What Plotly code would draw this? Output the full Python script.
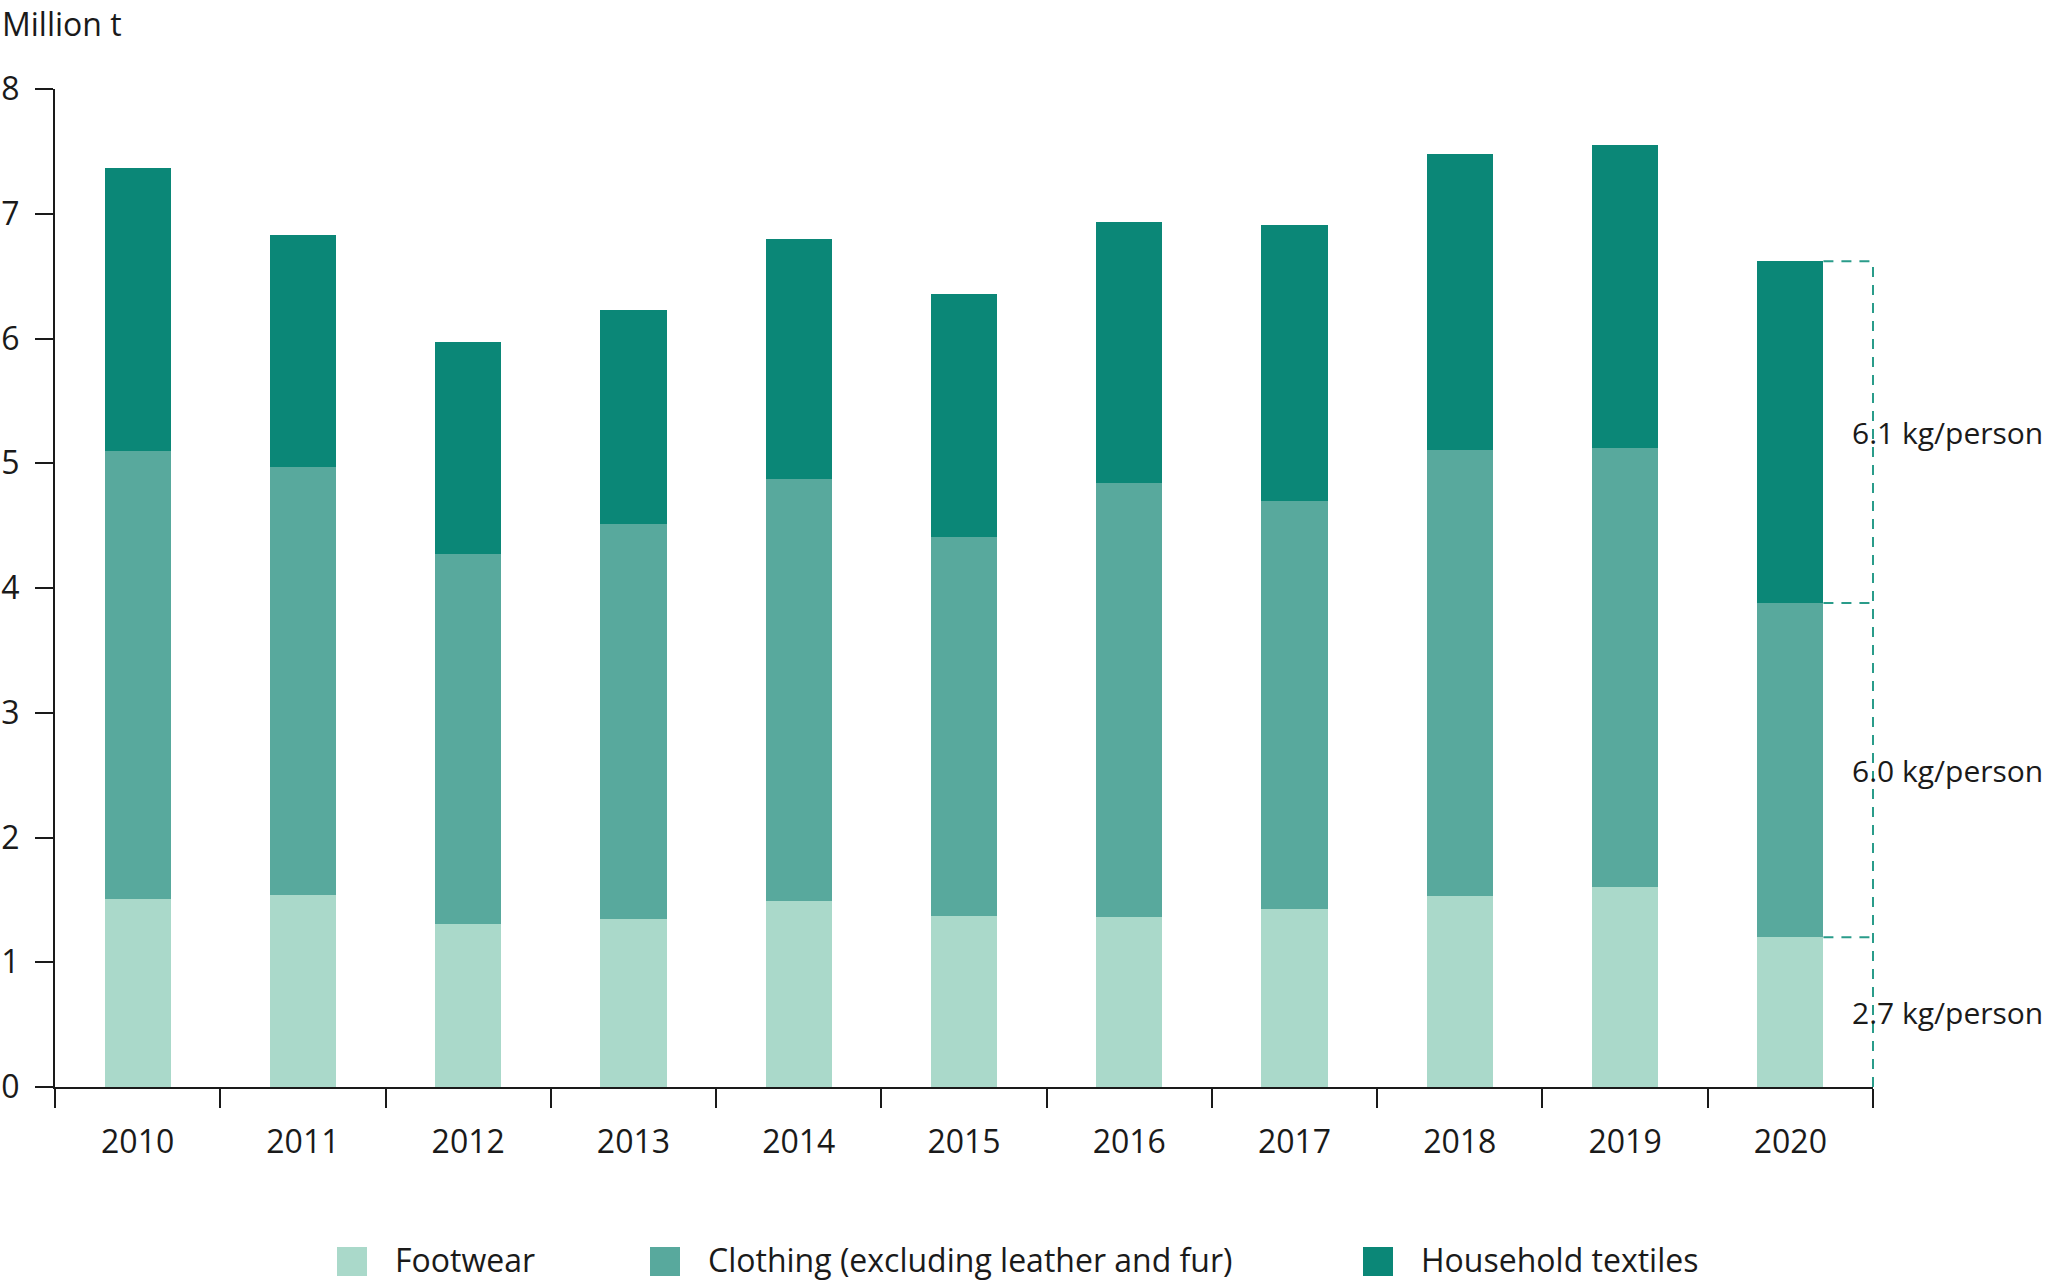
import plotly.graph_objects as go

years = ["2010", "2011", "2012", "2013", "2014", "2015", "2016", "2017", "2018", "2019", "2020"]
footwear = [1.51, 1.54, 1.31, 1.35, 1.49, 1.37, 1.36, 1.43, 1.53, 1.60, 1.20]
clothing = [3.59, 3.43, 2.96, 3.16, 3.38, 3.04, 3.48, 3.27, 3.58, 3.52, 2.68]
household = [2.27, 1.86, 1.70, 1.72, 1.93, 1.95, 2.09, 2.21, 2.37, 2.43, 2.74]
series_names = ["Footwear", "Clothing (excluding leather and fur)", "Household textiles"]
per_person_2020 = ["2.7 kg/person", "6.0 kg/person", "6.1 kg/person"]  # footwear, clothing, household
y_ticks = [0, 1, 2, 3, 4, 5, 6, 7, 8]

colors = ["#aad9ca", "#58a99d", "#0b8777"]
dash_color = "#2a9c8a"
FONT = "Open Sans"
TXT = "#1a1a1a"

W, H = 2048, 1280
ML, MR, MT, MB = 55, 175, 89, 193
PW = W - ML - MR
PH = H - MT - MB

def px2paper_x(px):
    return (px - ML) / PW

def px2paper_y(py):
    return (H - MB - py) / PH

fig = go.Figure()
for name, vals, col in zip(series_names, [footwear, clothing, household], colors):
    fig.add_trace(go.Bar(
        x=years, y=vals, name=name, width=0.4,
        marker=dict(color=col, line=dict(width=0)),
        showlegend=False,
    ))

# bracket for last year
last = len(years) - 1
cum = [footwear[last], footwear[last] + clothing[last], footwear[last] + clothing[last] + household[last]]
bottoms = [0, cum[0], cum[1]]
shapes = []
for c in cum:
    shapes.append(dict(type="line", xref="x", yref="y", x0=last + 0.2, x1=last + 0.5, y0=c, y1=c,
                       line=dict(color=dash_color, width=2, dash="10px,8px")))
shapes.append(dict(type="line", xref="paper", yref="y", x0=1, x1=1, y0=0, y1=cum[2],
                   line=dict(color=dash_color, width=2, dash="10px,8px")))

annotations = []
for lab, b, t in zip(per_person_2020, bottoms, cum):
    annotations.append(dict(x=last + 0.361, y=(b + t) / 2, xref="x", yref="y", text=lab,
                            showarrow=False, xanchor="left", yanchor="middle",
                            font=dict(family=FONT, size=30, color=TXT)))

# y-axis title
annotations.append(dict(x=0, y=px2paper_y(23), xref="paper", yref="paper", xshift=-ML,
                        text="Million t", showarrow=False, xanchor="left", yanchor="middle",
                        font=dict(family=FONT, size=32, color=TXT)))

# custom legend
sw_left = [337, 650, 1363]
txt_left = [393, 706, 1419]
for name, col, sl, tl in zip(series_names, colors, sw_left, txt_left):
    shapes.append(dict(type="rect", xref="paper", yref="paper",
                       x0=px2paper_x(sl), x1=px2paper_x(sl + 30),
                       y0=px2paper_y(1247), y1=px2paper_y(1276),
                       fillcolor=col, line=dict(width=0)))
    annotations.append(dict(x=px2paper_x(tl), y=px2paper_y(1259), xref="paper", yref="paper",
                            text=name, showarrow=False, xanchor="left", yanchor="middle",
                            font=dict(family=FONT, size=32, color=TXT)))

fig.update_layout(
    width=W, height=H,
    margin=dict(l=ML, r=MR, t=MT, b=MB, pad=0, autoexpand=False),
    barmode="stack",
    plot_bgcolor="white", paper_bgcolor="white",
    font=dict(family=FONT, size=32, color=TXT),
    shapes=shapes, annotations=annotations,
    showlegend=False,
)
fig.update_xaxes(
    type="category", range=[-0.5, len(years) - 0.5], automargin=False,
    tickson="boundaries", ticks="outside", ticklen=19, tickwidth=2, tickcolor=TXT,
    showline=True, linewidth=2, linecolor=TXT, showgrid=False, zeroline=False,
    tickfont=dict(family=FONT, size=32, color=TXT), ticklabelstandoff=26,
)
fig.update_yaxes(
    range=[0, 8], tickvals=y_ticks, ticks="outside", ticklen=18, tickwidth=2, tickcolor=TXT,
    showline=True, linewidth=2, linecolor=TXT, showgrid=False, zeroline=False, automargin=False,
    tickfont=dict(family=FONT, size=32, color=TXT), ticklabelstandoff=9,
)

fig.write_html("out.html", config={"displayModeBar": False},
               post_script="document.body.style.margin='0';")
